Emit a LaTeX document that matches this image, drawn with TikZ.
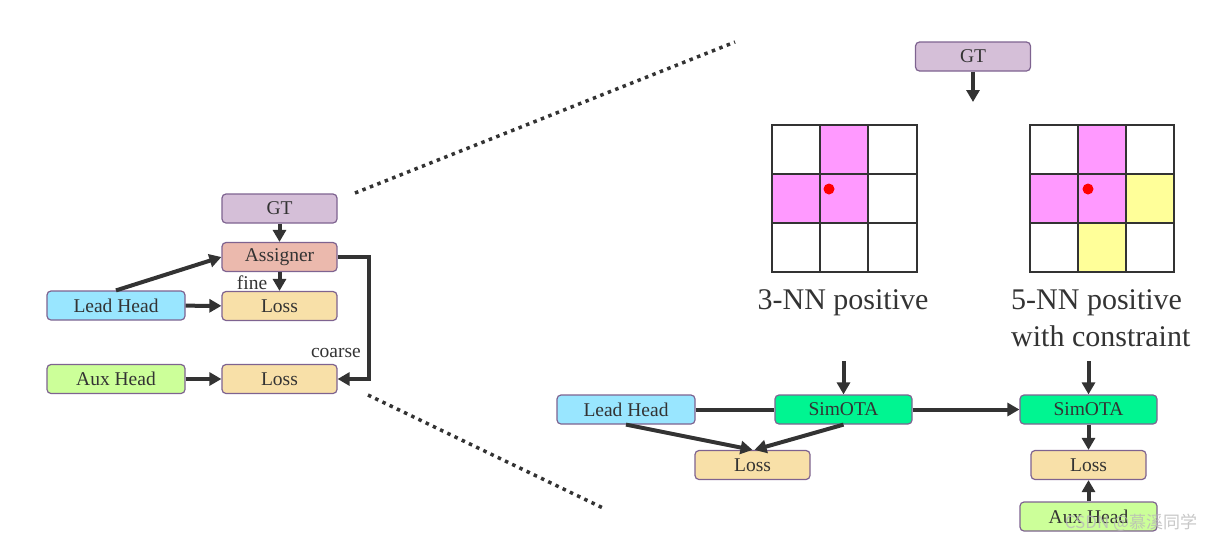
\documentclass[tikz,border=0pt]{standalone}
\usepackage{fontspec}
\setmainfont{Liberation Serif}
\newfontfamily\cjkfont{Noto Sans CJK SC}
\usetikzlibrary{arrows.meta}
\definecolor{edgec}{HTML}{7E6390}
\definecolor{gtc}{HTML}{D5BFD8}
\definecolor{asgc}{HTML}{EBB9AD}
\definecolor{lossc}{HTML}{F8E0A8}
\definecolor{leadc}{HTML}{99E6FF}
\definecolor{auxc}{HTML}{CCFF99}
\definecolor{simc}{HTML}{00F591}
\definecolor{pinkc}{HTML}{FF99FF}
\definecolor{yelc}{HTML}{FFFF99}
\definecolor{linec}{HTML}{333333}
\tikzset{
  box/.style={draw=edgec, line width=1.2pt, rounded corners=4pt, inner sep=0pt,
    minimum height=29pt, font=\fontsize{19.5}{22}\selectfont, text=linec},
  wbox/.style={box, minimum width=138pt},
  nbox/.style={box, minimum width=115pt},
  conn/.style={draw=linec, line width=4pt},
  arr/.style={conn, -{Triangle[length=12pt,width=13pt]}},
  dots/.style={draw=linec, line width=3.5pt, dash pattern=on 3.5pt off 4.5pt},
  gridline/.style={draw=linec, line width=1.8pt, line cap=rect},
  lbl/.style={font=\fontsize{19.5}{22}\selectfont, text=linec, inner sep=0pt},
  big/.style={font=\fontsize{30}{37}\selectfont, text=linec, inner sep=0pt, align=left}
}
\begin{document}
\begin{tikzpicture}[x=1pt,y=-1pt]
\useasboundingbox (0,0) rectangle (1215,542);
% ---------- left part ----------
\node[nbox, fill=gtc] (gtL) at (279.5,208.5) {GT};
\node[nbox, fill=asgc] (asg) at (279.5,257) {Assigner};
\node[nbox, fill=lossc] (loss1) at (279.5,306) {Loss};
\node[wbox, fill=leadc] (leadL) at (116,305.5) {Lead Head};
\node[wbox, fill=auxc] (auxL) at (116,379) {Aux Head};
\node[nbox, fill=lossc] (loss2) at (279.5,379) {Loss};
\draw[arr] (gtL) -- (asg);
\draw[arr] (asg) -- (loss1);
\node[lbl] (fine) at (252,283) {fine};
\draw[arr] (leadL.north) -- (asg.west);
\draw[arr] (leadL) -- (loss1);
\draw[arr] (auxL) -- (loss2);
\draw[arr] (asg.east) -- (369,257) |- (loss2.east);
\node[lbl, anchor=east] (coarse) at (361,353) {coarse};
% dotted zoom lines
\coordinate (d1a) at (355,193);
\coordinate (d1b) at (735,42);
\coordinate (d2a) at (368,395);
\coordinate (d2b) at (603,508);
\draw[dots] (d1a) -- (d1b);
\draw[dots] (d2a) -- (d2b);
% ---------- right part ----------
\node[nbox, fill=gtc] (gtR) at (973,56.5) {GT};
\coordinate (gtEnd) at (973,102);
\draw[arr] (gtR) -- (gtEnd);
% grid 1
\fill[pinkc] (820,125) rectangle (868,174);
\fill[pinkc] (772,174) rectangle (868,223);
\foreach \xx in {772,820,868,917} \draw[gridline] (\xx,125) -- (\xx,272);
\foreach \yy in {125,174,223,272} \draw[gridline] (772,\yy) -- (917,\yy);
\fill[red] (829,189) circle (5.5);
% grid 2
\fill[pinkc] (1078,125) rectangle (1126,174);
\fill[pinkc] (1030,174) rectangle (1126,223);
\fill[yelc] (1126,174) rectangle (1174,223);
\fill[yelc] (1078,223) rectangle (1126,272);
\foreach \xx in {1030,1078,1126,1174} \draw[gridline] (\xx,125) -- (\xx,272);
\foreach \yy in {125,174,223,272} \draw[gridline] (1030,\yy) -- (1174,\yy);
\fill[red] (1088,189) circle (5.5);
\node[big, anchor=north] (t3nn) at (843,289) {3-NN positive};
\node[big, anchor=north west] (t5nn) at (1011,289) {5-NN positive\\with constraint};
% flow
\node[wbox, fill=leadc] (leadR) at (626,409.5) {Lead Head};
\node[wbox, minimum width=137pt, fill=simc] (sim1) at (843.5,409.5) {SimOTA};
\node[wbox, minimum width=137pt, fill=simc] (sim2) at (1088.5,409.5) {SimOTA};
\node[nbox, fill=lossc] (loss3) at (752.5,465) {Loss};
\node[nbox, fill=lossc] (loss4) at (1088.5,465) {Loss};
\node[wbox, minimum width=137pt, fill=auxc] (auxR) at (1088.5,516.5) {Aux Head};
\coordinate (in1) at (843.5,361);
\coordinate (in2) at (1088.5,361);
\draw[arr] (in1) -- (sim1);
\draw[arr] (in2) -- (sim2);
\draw[conn] (leadR) -- (sim1);
\draw[arr] (sim1) -- (sim2);
\draw[arr] (leadR.south) -- (loss3.north);
\draw[arr] (sim1.south) -- ([xshift=2pt]loss3.north);
\draw[arr] (sim2) -- (loss4);
\draw[arr] (auxR) -- (loss4);
% watermark
\node[font=\cjkfont\fontsize{17}{20}\selectfont, text=gray!55, opacity=0.8, inner sep=0pt] (wm) at (1131,523) {CSDN @慕溪同学};
\end{tikzpicture}
\end{document}
